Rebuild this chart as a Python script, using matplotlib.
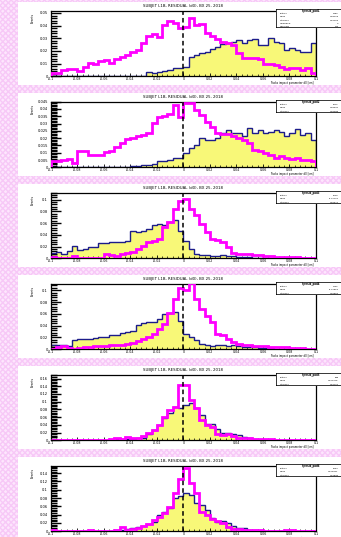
import numpy as np
import matplotlib
matplotlib.use("Agg")
import matplotlib.pyplot as plt
from matplotlib.patches import Rectangle
from matplotlib.ticker import MultipleLocator, AutoMinorLocator, FuncFormatter

# six pads, 50 bins each from -0.1 to 0.1
# values are read off the picture in units of one y major tick
x_lo, x_hi, n_bins = -0.1, 0.1, 50

blue1 = [0, 0, 0, 0, 0, 0, 0, 0, 0, 0, 0, 0, 0, 0, 0, 0, 0, 0, 0.37, 0.24,
         0.37, 0.45, 0.50, 0.63, 0.68, 0.76, 1.50, 1.68, 1.82, 1.95, 2.13, 2.34, 2.53, 2.61, 2.74,
         2.87, 2.61, 2.87, 2.92, 2.47, 2.47, 3.00, 2.74, 2.61, 2.08, 2.21, 2.08, 1.95, 1.95, 2.61]
pink1 = [0.29, 0.24, 0.50, 0.61, 0.55, 0.45, 0.76, 1.08, 0.97, 1.21, 1.29, 1.08, 1.34, 1.50, 1.68,
         1.89, 2.08, 2.61, 3.21, 3.32, 3.08, 4.05, 4.39, 4.24, 3.79, 3.87, 4.58, 4.05, 4.13, 3.39,
         3.21, 2.95, 2.74, 2.61, 2.47, 1.82, 1.42, 1.42, 1.42, 1.34, 0.97, 0.97, 0.89, 0.76, 0.55,
         0.68, 0.63, 0.50, 0.63, 0.24]

blue2 = [0, 0, 0, 0, 0, 0, 0, 0, 0, 0, 0, 0, 0, 0, 0, 0.23, 0.23, 0.36, 0.36, 0.50,
         0.82, 0.82, 1.05, 1.27, 1.27, 1.95, 2.64, 3.09, 4.00, 3.77, 3.77, 4.00, 4.68, 5.05, 4.68,
         4.68, 4.23, 5.36, 4.68, 5.05, 4.68, 4.91, 5.14, 4.91, 4.23, 4.68, 5.23, 4.45, 4.77, 3.77]
pink2 = [0.82, 0.82, 0.95, 1.14, 0.59, 2.18, 2.18, 1.73, 1.73, 1.73, 2.05, 2.18, 2.77, 3.32, 3.86,
         4.00, 4.23, 4.45, 4.68, 6.05, 6.95, 7.05, 7.32, 8.55, 6.95, 8.86, 8.86, 7.86, 7.18, 6.27,
         5.59, 4.77, 4.59, 4.59, 4.32, 4.00, 3.77, 3.32, 2.41, 2.18, 1.95, 1.73, 1.27, 1.50, 1.27,
         1.18, 1.27, 1.05, 1.05, 0.91]

blue3 = [0.46, 0.51, 0.37, 0.66, 1.09, 0.74, 0.80, 0.94, 0.94, 1.31, 1.31, 1.37, 1.43, 1.43, 1.51,
         2.37, 2.23, 2.37, 2.51, 2.80, 2.94, 2.80, 3.09, 3.31, 2.37, 1.51, 0.80, 0.37, 0.29, 0.29,
         0.23, 0.23, 0.29, 0.23, 0.17, 0.09, 0.09, 0.11, 0.06, 0, 0, 0, 0, 0, 0, 0, 0, 0, 0, 0]
pink3 = [0.15, 0.05, 0.05, 0.05, 0.20, 0.05, 0.05, 0.05, 0.05, 0.05, 0.37, 0.29, 0.23, 0.37, 0.46,
         0.57, 0.80, 1.09, 1.37, 1.51, 1.66, 2.66, 3.14, 4.23, 4.86, 5.03, 4.23, 3.66, 2.94, 2.23,
         1.66, 1.60, 1.37, 0.94, 0.46, 0.37, 0.37, 0.37, 0.29, 0.29, 0.23, 0.17, 0.10, 0.10, 0.08,
         0.08, 0.08, 0.05, 0.05, 0.05]

blue4 = [0.33, 0.39, 0.39, 0.28, 0.75, 0.83, 0.83, 0.89, 0.94, 1.03, 1.03, 1.17, 1.17, 1.39, 1.44,
         1.58, 2.06, 2.22, 2.28, 2.33, 2.56, 2.97, 3.06, 3.17, 2.42, 1.31, 1.03, 0.75, 0.47, 0.33,
         0.28, 0.33, 0.33, 0.28, 0.33, 0.28, 0.22, 0.19, 0.17, 0.11, 0.11, 0.11, 0.06, 0.06, 0, 0,
         0, 0, 0, 0]
pink4 = [0.06, 0.17, 0.28, 0.11, 0.06, 0.11, 0.17, 0.22, 0.25, 0.28, 0.28, 0.33, 0.39, 0.39, 0.47,
         0.56, 0.67, 0.89, 1.03, 1.31, 1.72, 2.14, 3.11, 4.22, 5.19, 5.00, 5.61, 4.22, 3.39, 2.83,
         2.28, 1.31, 1.22, 0.89, 0.61, 0.47, 0.39, 0.33, 0.28, 0.28, 0.25, 0.22, 0.22, 0.17, 0.17,
         0.11, 0.11, 0.11, 0.06, 0.06]

blue5 = [0, 0, 0, 0, 0, 0, 0, 0, 0, 0, 0, 0, 0.17, 0.17, 0.22, 0.22, 0.26, 0.35, 0.78, 1.30,
         1.96, 2.83, 3.48, 4.35, 4.13, 4.57, 4.87, 4.13, 3.26, 2.17, 2.17, 1.52, 0.96, 0.96, 0.78,
         0.65, 0.43, 0.35, 0.17, 0.09, 0.09, 0, 0, 0, 0, 0, 0, 0, 0, 0]
pink5 = [0, 0, 0, 0, 0, 0, 0, 0, 0, 0, 0, 0.13, 0.30, 0.13, 0.43, 0.30, 0.35, 0.52, 0.96, 1.30,
         1.96, 2.96, 3.91, 4.35, 7.17, 7.17, 5.22, 4.13, 2.61, 1.96, 1.74, 0.87, 0.65, 0.78, 0.52,
         0.35, 0.35, 0.30, 0.17, 0.17, 0.17, 0.22, 0, 0, 0, 0, 0, 0, 0, 0]

blue6 = [0, 0, 0, 0, 0, 0, 0, 0, 0, 0, 0, 0.04, 0.12, 0.20, 0.29, 0.45, 0.53, 0.61, 0.86, 1.14,
         1.96, 2.37, 2.78, 4.00, 4.20, 4.61, 4.41, 3.39, 3.18, 2.57, 1.55, 1.14, 1.22, 1.02, 0.61,
         0.45, 0.41, 0.20, 0.12, 0.08, 0, 0, 0, 0, 0, 0, 0, 0, 0, 0]
pink6 = [0.20, 0, 0, 0, 0, 0, 0, 0.12, 0, 0, 0, 0, 0.12, 0.53, 0.12, 0.33, 0.41, 0.61, 0.86, 1.35,
         1.76, 2.16, 2.98, 4.61, 6.24, 7.67, 5.84, 4.61, 2.37, 1.96, 1.43, 1.27, 1.02, 0.53, 0.33,
         0.33, 0.20, 0.20, 0.12, 0.12, 0, 0, 0, 0.08, 0.12, 0.16, 0, 0, 0, 0]

# y axis of each pad: value of one major tick and the top of the frame (in ticks)
y_step = [0.01, 0.005, 0.02, 0.02, 0.02, 0.02]
y_top = [5.18, 9.0, 5.6, 5.55, 8.5, 7.9]

stats = [
    [("Entries", "1450"), ("Mean", "0.03108"), ("Std Dev", "0.05163"), ("Underflow", "0"), ("Overflow", "214")],
    [("Entries", "1372"), ("Mean", "0.04331"), ("Std Dev", "0.04488")],
    [("Entries", "1019"), ("Mean", "-0.02734"), ("Std Dev", "0.02671")],
    [("Entries", "1122"), ("Mean", "-0.02518"), ("Std Dev", "0.02865")],
    [("Entries", "986"), ("Mean", "0.001376"), ("Std Dev", "0.01721")],
    [("Entries", "1004"), ("Mean", "0.000921"), ("Std Dev", "0.01839")],
]

title = "SUBJET L1B, RESIDUAL (d0), BX 25, 2018"
W, H = 341, 537


def fx(px):
    return px / W


def fy(py):
    # pixel from top -> figure fraction from bottom
    return 1 - py / H


fig = plt.figure(figsize=(W / 100, H / 100), dpi=100)
fig.patch.set_facecolor("#fde6fd")
# light pink hatch like the ROOT canvas fill
fig.patches.append(Rectangle((0, 0), 1, 1, transform=fig.transFigure, facecolor="none",
                             edgecolor="#f7c8f7", hatch="xxxxxx", linewidth=0, zorder=0))

edges = np.linspace(x_lo, x_hi, n_bins + 1)
blues = [blue1, blue2, blue3, blue4, blue5, blue6]
pinks = [pink1, pink2, pink3, pink4, pink5, pink6]

for i in range(6):
    top = 1.7 + 91.0 * i
    # white pad
    fig.patches.append(Rectangle((fx(18), fy(top + 83.3)), fx(330), 83.3 / H,
                                 transform=fig.transFigure, facecolor="white",
                                 edgecolor="none", zorder=1))

    ax = fig.add_axes([fx(50.7), fy(top + 74.6), fx(265.3), 65.6 / H])
    ax.set_zorder(2)
    step = y_step[i]
    b = np.array(blues[i]) * step
    p = np.array(pinks[i]) * step

    ax.stairs(b, edges, fill=True, color="#f8f878", zorder=1)
    ax.stairs(b, edges, color="#1c1c8a", linewidth=1.0, baseline=0, zorder=2)
    ax.stairs(p, edges, color="#ff00ff", linewidth=2.0, baseline=0, zorder=3)
    ax.axvline(0, color="black", linestyle=(0, (3, 2)), linewidth=1.1, zorder=4)

    ax.set_xlim(x_lo, x_hi)
    ax.set_ylim(0, y_top[i] * step)
    ax.xaxis.set_major_locator(MultipleLocator(0.02))
    ax.xaxis.set_minor_locator(AutoMinorLocator(5))
    ax.yaxis.set_major_locator(MultipleLocator(step))
    ax.yaxis.set_minor_locator(AutoMinorLocator(5))
    ax.xaxis.set_major_formatter(FuncFormatter(lambda v, pos: f"{v:g}" if abs(v) > 1e-9 else "0"))
    ax.yaxis.set_major_formatter(FuncFormatter(lambda v, pos: f"{v:g}" if v > 1e-9 else "0"))
    ax.tick_params(axis="y", which="major", direction="in", length=7, width=1.0, labelsize=2.6, pad=2)
    ax.tick_params(axis="y", which="minor", direction="in", length=4.3, width=1.0)
    ax.tick_params(axis="x", which="major", direction="in", length=2.5, width=0.6, labelsize=2.3, pad=0.7)
    ax.tick_params(axis="x", which="minor", direction="in", length=1.2, width=0.5)
    for s in ax.spines.values():
        s.set_linewidth(0.9)

    fig.text(fx(183.4), fy(top + 4.3), title, fontsize=2.8, ha="center", va="center", zorder=5)
    fig.text(fx(33), fy(top + 11), "Events", fontsize=2.2, rotation=90, ha="center", va="top", zorder=5)
    fig.text(fx(314), fy(min(top + 81.3, 536.6)), "Tracks impact parameter d0 [cm]",
             fontsize=1.9 if i < 5 else 1.6, ha="right", va="center", zorder=5)

    # stats box, hangs off the right side of the canvas
    rows = stats[i]
    box_h = 19.0 if i == 0 else 12.7
    sx = fig.add_axes([fx(275.7), fy(top + 7.3 + box_h), fx(70), box_h / H])
    sx.set_zorder(6)
    sx.set_xlim(0, 1)
    sx.set_ylim(0, 1)
    sx.axis("off")
    sx.add_patch(Rectangle((0, 0), 1, 1, facecolor="white", edgecolor="black", linewidth=1.1))
    n = len(rows) + 1
    sx.text(0.5, 1 - 0.5 / n, f"h_resid_pad{i + 1}", fontsize=1.8, fontweight="bold",
            ha="center", va="center")
    for k, (lab, val) in enumerate(rows):
        yy = 1 - (k + 1.5) / n
        sx.text(0.06, yy, lab, fontsize=1.6, ha="left", va="center")
        sx.text(0.90, yy, val, fontsize=1.6, ha="right", va="center")

fig.savefig("out.png", dpi=100, facecolor=fig.get_facecolor())
